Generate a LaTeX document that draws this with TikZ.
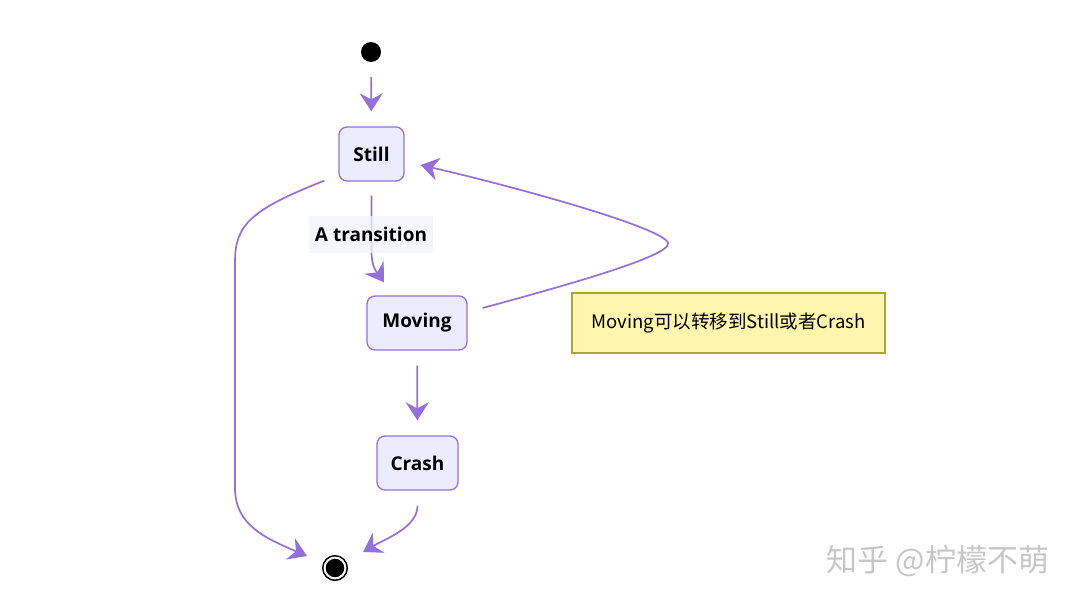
\documentclass[tikz,border=0pt]{standalone}
\usepackage{fontspec}
\setmainfont{Open Sans}
\newfontfamily\cjk{Noto Sans CJK SC}
\usetikzlibrary{arrows.meta}
\definecolor{edgepurple}{HTML}{9370DB}
\definecolor{statefill}{HTML}{ECECFF}
\definecolor{notefill}{HTML}{FFF5AD}
\definecolor{noteline}{HTML}{AAAA33}
\definecolor{labelfill}{HTML}{F2F2FC}

\begin{document}
\begin{tikzpicture}[x=1pt, y=-1pt,
  state/.style={draw=edgepurple, fill=statefill, line width=1.3pt, rounded corners=8pt,
    minimum height=54pt, font=\fontsize{19}{22}\selectfont\bfseries},
  trans/.style={color=edgepurple, line width=1.7pt, -{Stealth[length=18pt,width=23pt,inset=6pt]}},
  gap/.style={shorten <=15pt, shorten >=15pt}]
  \useasboundingbox (0,0) rectangle (1081,605);
  \node (start) [circle, fill=black, minimum size=20pt, inner sep=0pt] at (371,52) {};
  \node (still) [state, minimum width=65pt] at (371.5,154) {Still};
  \node (moving) [state, minimum width=100pt] at (417,323) {Moving};
  \node (crash) [state, minimum width=81pt] at (417.5,463) {Crash};
  \node (end) [circle, draw=black, double=white, double distance=2pt, line width=1.6pt,
    fill=black, minimum size=20.8pt, inner sep=0pt] at (335,568) {};
  \node (note) [draw=noteline, fill=notefill, line width=1.3pt, minimum width=313pt,
    minimum height=60pt, font=\cjk\fontsize{18.5}{21}\selectfont] at (728.5,323)
    {Moving可以转移到Still或者Crash};
  \node (mark) [text=black!22, font=\cjk\fontsize{31}{33}\selectfont] at (938,561) {知乎 @柠檬不萌};

  \path[trans]
  (start) edge[gap] (still)
  (moving) edge[gap] (crash);
  % curved transitions
  \draw[trans] ([shift={(0,14)}]still.south) -- ++(0,56)
    .. controls +(0,17) and +(-6,-9) .. ([shift={(-33,-13)}]moving.north);
  \draw[trans] ([shift={(15,-15)}]moving.east) .. controls (560,287) and (672,256) .. (668,243)
    .. controls (664,228) and (520,188) .. ([shift={(16,11)}]still.east);
  \draw[trans] ([shift={(-14,-1)}]still.south west) .. controls (250,210) and (235,225) .. (235,262)
    -- (235,488) .. controls (235,525) and (265,538) .. ([shift={(-28,-12)}]end.center);
  \draw[trans] ([shift={(0,15)}]crash.south) .. controls +(0,22) and +(22,-13) .. ([shift={(28,-16)}]end.center);
  \node (lbl) [fill=labelfill, fill opacity=0.75, text opacity=1, minimum width=124pt, minimum height=37pt,
    font=\fontsize{19}{22}\selectfont\bfseries] at (371,234) {A transition};
\end{tikzpicture}
\end{document}
